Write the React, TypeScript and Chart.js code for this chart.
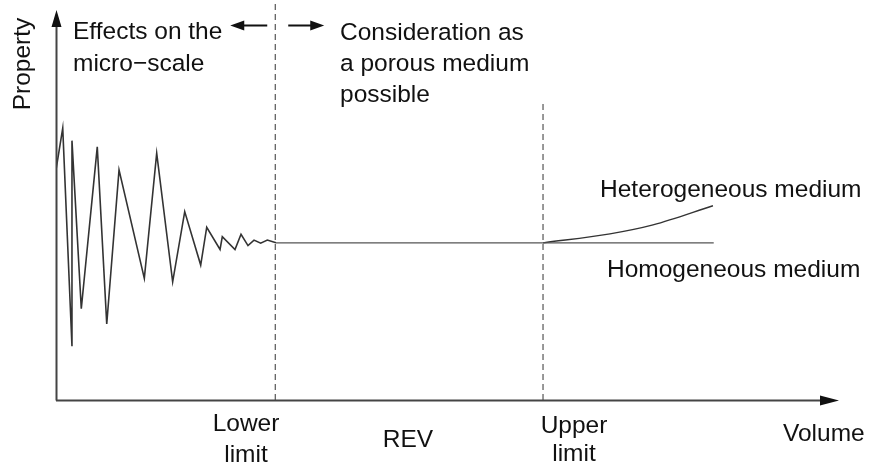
import React, { useEffect, useRef } from "react";
import { Chart, registerables } from "chart.js";

Chart.register(...registerables);

// Micro-scale fluctuation (volume, property)
const microVolume = [0, 0.86, 2.04, 2.04, 3.23, 5.27, 6.48, 8.05, 11.28, 12.86, 14.9, 16.44, 18.48, 19.25, 20.95, 21.24, 22.86, 23.63, 24.52, 25.29, 26.14, 26.99, 28.1];
const microProperty = [59.0, 69.7, 13.8, 66.5, 23.4, 64.9, 19.5, 59.0, 31.2, 63.3, 30.3, 48.3, 34.6, 44.3, 38.6, 41.9, 38.6, 42.5, 39.6, 41.0, 40.2, 41.0, 40.3];

// Homogeneous medium plateau
const homogeneousVolume = [28.1, 84.0];
const homogeneousProperty = [40.3, 40.3];

// Heterogeneous medium branch
const heterogeneousVolume = [62.2, 70.75, 76.25, 83.9];
const heterogeneousProperty = [40.3, 42.6, 44.9, 49.8];

// REV limits
const limitVolume = [28.0, 62.2];
const limitTop = [102.6, 76.5];

const axisLabels = ["Property", "Volume"];
const regionLabels = ["Lower\nlimit", "REV", "Upper\nlimit"];
const mediumLabels = ["Heterogeneous medium", "Homogeneous medium"];
const noteLabels = ["Effects on the\nmicro\u2212scale", "Consideration as\na porous medium\npossible"];

const pts = (xs: number[], ys: number[]) => xs.map((x, i) => ({ x, y: ys[i] }));

const FONT = '24.5px "Liberation Sans", Arial, Helvetica, sans-serif';
const INK = "#111";

function arrowHead(ctx: CanvasRenderingContext2D, tipX: number, tipY: number, dir: "up" | "right" | "left", len: number, half: number) {
  ctx.beginPath();
  ctx.moveTo(tipX, tipY);
  if (dir === "up") {
    ctx.lineTo(tipX - half, tipY + len);
    ctx.lineTo(tipX + half, tipY + len);
  } else if (dir === "right") {
    ctx.lineTo(tipX - len, tipY - half);
    ctx.lineTo(tipX - len, tipY + half);
  } else {
    ctx.lineTo(tipX + len, tipY - half);
    ctx.lineTo(tipX + len, tipY + half);
  }
  ctx.closePath();
  ctx.fill();
}

const decorPlugin = {
  id: "decor",
  afterDatasetsDraw(chart: any) {
    const ctx: CanvasRenderingContext2D = chart.ctx;
    const xs = chart.scales.x;
    const ys = chart.scales.y;
    const x0 = xs.getPixelForValue(0);
    const x1 = xs.getPixelForValue(100);
    const y0 = ys.getPixelForValue(0);
    const y1 = ys.getPixelForValue(100);
    ctx.save();
    // axes
    ctx.strokeStyle = "#444";
    ctx.fillStyle = "#111";
    ctx.lineWidth = 2;
    ctx.beginPath();
    ctx.moveTo(x0 + 0.5, y0 + 0.5);
    ctx.lineTo(x0 + 0.5, y1 + 12);
    ctx.moveTo(x0, y0 + 0.5);
    ctx.lineTo(x1 - 14, y0 + 0.5);
    ctx.stroke();
    arrowHead(ctx, x0 + 0.5, y1, "up", 17, 5);
    arrowHead(ctx, x1, y0 + 0.5, "right", 19, 5);

    // small direction arrows at the top
    const lx = xs.getPixelForValue(limitVolume[0]);
    ctx.lineWidth = 2;
    ctx.strokeStyle = "#111";
    ctx.beginPath();
    ctx.moveTo(lx - 8, 25.5);
    ctx.lineTo(lx - 40, 25.5);
    ctx.moveTo(lx + 13, 25.5);
    ctx.lineTo(lx + 40, 25.5);
    ctx.stroke();
    arrowHead(ctx, lx - 45, 25.5, "left", 14, 5);
    arrowHead(ctx, lx + 49, 25.5, "right", 14, 5);

    // texts
    ctx.font = FONT;
    ctx.fillStyle = INK;
    ctx.textBaseline = "alphabetic";

    // Property (rotated)
    ctx.save();
    ctx.translate(23, 64);
    ctx.rotate(-Math.PI / 2);
    ctx.textAlign = "center";
    ctx.textBaseline = "middle";
    ctx.fillText(axisLabels[0], 0, 0);
    ctx.restore();

    ctx.textAlign = "left";
    // notes
    noteLabels[0].split("\n").forEach((t, i) => ctx.fillText(t, 73, 39 + i * 32));
    noteLabels[1].split("\n").forEach((t, i) => ctx.fillText(t, 340, 40 + i * 31));

    // medium labels
    ctx.fillText(mediumLabels[0], 600, 197);
    ctx.fillText(mediumLabels[1], 607, 277);

    // bottom labels
    ctx.textAlign = "center";
    regionLabels[0].split("\n").forEach((t, i) => ctx.fillText(t, 246, 431 + i * 31));
    ctx.fillText(regionLabels[1], 408, 447);
    regionLabels[2].split("\n").forEach((t, i) => ctx.fillText(t, 574, 433 + i * 28));
    ctx.textAlign = "left";
    ctx.fillText(axisLabels[1], 783, 441);
    ctx.restore();
  },
};

export default function App() {
  const ref = useRef<HTMLCanvasElement | null>(null);
  useEffect(() => {
    if (!ref.current) return;
    const dash = (i: number) => ({
      data: [
        { x: limitVolume[i], y: 0 },
        { x: limitVolume[i], y: limitTop[i] },
      ],
      borderColor: "#333",
      borderWidth: 1,
      borderDash: [6, 4],
      clip: false as any,
      pointRadius: 0,
      showLine: true,
    });
    const chart = new Chart(ref.current, {
      type: "scatter",
      data: {
        datasets: [
          dash(0),
          dash(1),
          {
            data: pts(microVolume, microProperty),
            borderColor: "#333",
            borderWidth: 1.6,
            pointRadius: 0,
            showLine: true,
            tension: 0,
          },
          {
            data: pts(homogeneousVolume, homogeneousProperty),
            borderColor: "#555",
            borderWidth: 1.4,
            pointRadius: 0,
            showLine: true,
          },
          {
            data: pts(heterogeneousVolume, heterogeneousProperty),
            borderColor: "#333",
            borderWidth: 1.4,
            pointRadius: 0,
            showLine: true,
            cubicInterpolationMode: "monotone",
          },
        ],
      },
      options: {
        animation: false,
        responsive: false,
        devicePixelRatio: 1,
        layout: { padding: { left: 56, right: 30, top: 10, bottom: 66 } },
        scales: {
          x: { type: "linear", min: 0, max: 100, display: false },
          y: { type: "linear", min: 0, max: 100, display: false },
        },
        plugins: { legend: { display: false }, tooltip: { enabled: false } },
      },
      plugins: [decorPlugin],
    });
    return () => chart.destroy();
  }, []);
  return (
    <div style={{ position: "absolute", left: 0, top: 0, width: 869, height: 466, background: "#fff" }}>
      <canvas ref={ref} width={869} height={466} style={{ width: 869, height: 466, display: "block" }} />
    </div>
  );
}
